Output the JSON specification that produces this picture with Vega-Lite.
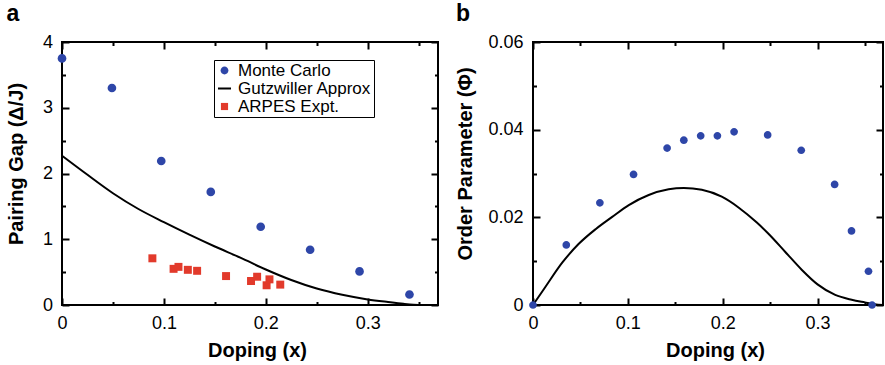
{
  "$schema": "https://vega.github.io/schema/vega-lite/v6.json",
  "padding": {"left": 5, "top": 2, "right": 0, "bottom": 0},
  "spacing": 15,
  "datasets": {
    "gutzA": [
      {"doping": 0, "gap": 2.27}, {"doping": 0.025, "gap": 1.98}, {"doping": 0.05, "gap": 1.70},
      {"doping": 0.075, "gap": 1.46}, {"doping": 0.1, "gap": 1.26}, {"doping": 0.125, "gap": 1.07},
      {"doping": 0.15, "gap": 0.89}, {"doping": 0.175, "gap": 0.72}, {"doping": 0.2, "gap": 0.54},
      {"doping": 0.225, "gap": 0.38}, {"doping": 0.25, "gap": 0.25}, {"doping": 0.275, "gap": 0.155},
      {"doping": 0.3, "gap": 0.085}, {"doping": 0.32, "gap": 0.045}, {"doping": 0.335, "gap": 0.018},
      {"doping": 0.345, "gap": 0.004}, {"doping": 0.35, "gap": 0.0}
    ],
    "pointsA": [
      {"doping": 0, "gap": 3.75, "series": "Monte Carlo"},
      {"doping": 0.049, "gap": 3.30, "series": "Monte Carlo"},
      {"doping": 0.0974, "gap": 2.19, "series": "Monte Carlo"},
      {"doping": 0.146, "gap": 1.72, "series": "Monte Carlo"},
      {"doping": 0.195, "gap": 1.19, "series": "Monte Carlo"},
      {"doping": 0.2435, "gap": 0.84, "series": "Monte Carlo"},
      {"doping": 0.292, "gap": 0.51, "series": "Monte Carlo"},
      {"doping": 0.341, "gap": 0.16, "series": "Monte Carlo"},
      {"doping": 0.0887, "gap": 0.71, "series": "ARPES Expt."},
      {"doping": 0.1095, "gap": 0.55, "series": "ARPES Expt."},
      {"doping": 0.1143, "gap": 0.58, "series": "ARPES Expt."},
      {"doping": 0.1235, "gap": 0.535, "series": "ARPES Expt."},
      {"doping": 0.1326, "gap": 0.52, "series": "ARPES Expt."},
      {"doping": 0.161, "gap": 0.44, "series": "ARPES Expt."},
      {"doping": 0.1855, "gap": 0.365, "series": "ARPES Expt."},
      {"doping": 0.1915, "gap": 0.43, "series": "ARPES Expt."},
      {"doping": 0.2008, "gap": 0.30, "series": "ARPES Expt."},
      {"doping": 0.2036, "gap": 0.39, "series": "ARPES Expt."},
      {"doping": 0.2142, "gap": 0.31, "series": "ARPES Expt."}
    ],
    "gutzB": [
      {"doping": 0, "order": 0}, {"doping": 0.013, "order": 0.0041}, {"doping": 0.031, "order": 0.0097},
      {"doping": 0.048, "order": 0.0139}, {"doping": 0.066, "order": 0.0173}, {"doping": 0.0835, "order": 0.0201},
      {"doping": 0.101, "order": 0.0228}, {"doping": 0.122, "order": 0.0251}, {"doping": 0.143, "order": 0.0264},
      {"doping": 0.159, "order": 0.0267}, {"doping": 0.178, "order": 0.0263}, {"doping": 0.199, "order": 0.0247},
      {"doping": 0.217, "order": 0.0222}, {"doping": 0.236, "order": 0.0188}, {"doping": 0.248, "order": 0.0163},
      {"doping": 0.266, "order": 0.0121}, {"doping": 0.2835, "order": 0.0080}, {"doping": 0.3, "order": 0.0047},
      {"doping": 0.3186, "order": 0.0023}, {"doping": 0.336, "order": 0.0012}, {"doping": 0.35, "order": 0.0006},
      {"doping": 0.36, "order": 0.0002}, {"doping": 0.369, "order": 0.0}
    ],
    "pointsB": [
      {"doping": 0, "order": 0, "series": "Monte Carlo"},
      {"doping": 0.0351, "order": 0.0137, "series": "Monte Carlo"},
      {"doping": 0.0705, "order": 0.0233, "series": "Monte Carlo"},
      {"doping": 0.106, "order": 0.0298, "series": "Monte Carlo"},
      {"doping": 0.1414, "order": 0.0358, "series": "Monte Carlo"},
      {"doping": 0.159, "order": 0.0376, "series": "Monte Carlo"},
      {"doping": 0.1768, "order": 0.0386, "series": "Monte Carlo"},
      {"doping": 0.1944, "order": 0.0386, "series": "Monte Carlo"},
      {"doping": 0.212, "order": 0.0395, "series": "Monte Carlo"},
      {"doping": 0.2474, "order": 0.0388, "series": "Monte Carlo"},
      {"doping": 0.2828, "order": 0.0353, "series": "Monte Carlo"},
      {"doping": 0.318, "order": 0.0275, "series": "Monte Carlo"},
      {"doping": 0.3358, "order": 0.0169, "series": "Monte Carlo"},
      {"doping": 0.3537, "order": 0.0077, "series": "Monte Carlo"},
      {"doping": 0.3575, "order": 0.0, "series": "Monte Carlo"}
    ]
  },
  "hconcat": [
    {
      "width": 376,
      "height": 263,
      "title": {"text": "a", "anchor": "start", "frame": "bounds", "fontSize": 23, "fontWeight": "bold", "offset": 7, "color": "black"},
      "layer": [
        {
          "data": {"name": "gutzA"},
          "mark": {"type": "line", "color": "black", "strokeWidth": 2, "interpolate": "monotone"},
          "encoding": {
            "x": {"field": "doping", "type": "quantitative", "scale": {"domain": [0, 0.369], "nice": false, "zero": false},
                  "axis": {"orient": "bottom", "values": [0, 0.1, 0.2, 0.3], "format": "~g", "title": "Doping (x)", "ticks": false, "grid": true, "gridColor": "#000000", "gridWidth": 2, "gridOpacity": 1, "gridDash": [7, 249], "labelPadding": 9.7, "titlePadding": 8, "titleX": 195}},
            "y": {"field": "gap", "type": "quantitative", "scale": {"domain": [0, 4], "nice": false},
                  "axis": {"orient": "left", "values": [0, 1, 2, 3, 4], "format": "~g", "title": "Pairing Gap (Δ/J)", "ticks": false, "grid": true, "gridColor": "#000000", "gridWidth": 2, "gridOpacity": 1, "gridDash": [7, 362], "labelPadding": 9.5, "titlePadding": 16, "titleY": 121.5}}
          }
        },
        {
          "data": {"name": "pointsA"},
          "mark": {"type": "point", "filled": true, "size": 210, "opacity": 1},
          "encoding": {
            "x": {"field": "doping", "type": "quantitative", "scale": {"domain": [0, 0.369], "nice": false, "zero": false},
                  "axis": {"orient": "bottom", "values": [0.05, 0.15, 0.25, 0.35], "labels": false, "title": null, "ticks": false, "grid": true, "gridColor": "#000000", "gridWidth": 2, "gridOpacity": 1, "gridDash": [3.5, 256]}},
            "y": {"field": "gap", "type": "quantitative", "scale": {"domain": [0, 4], "nice": false},
                  "axis": {"orient": "left", "values": [0.5, 1.5, 2.5, 3.5], "labels": false, "title": null, "ticks": false, "grid": true, "gridColor": "#000000", "gridWidth": 2, "gridOpacity": 1, "gridDash": [3.5, 369]}},
            "color": {"field": "series", "type": "nominal",
                      "scale": {"domain": ["Monte Carlo", "Gutzwiller Approx", "ARPES Expt."], "range": ["#2e46a8", "#000000", "#e23a2b"]},
                      "legend": {"title": null, "orient": "none", "legendX": 152, "legendY": 18, "padding": 2, "symbolOffset": 0, "labelOffset": 5, "rowPadding": 0, "symbolSize": 169, "strokeColor": "black", "fillColor": "white", "labelFontSize": 17, "labelFont": "Liberation Sans", "labelColor": "black", "encode": {"legend": {"update": {"strokeWidth": {"value": 2}}}}}},
            "shape": {"field": "series", "type": "nominal",
                      "scale": {"domain": ["Monte Carlo", "Gutzwiller Approx", "ARPES Expt."], "range": ["M0.6,0A0.6,0.6,0,1,1,-0.6,0A0.6,0.6,0,1,1,0.6,0Z", "M-1,-0.154H1V0.154H-1Z", "M-0.55,-0.55H0.55V0.55H-0.55Z"]},
                      "legend": {"title": null, "orient": "none", "legendX": 152, "legendY": 18, "padding": 2, "symbolOffset": 0, "labelOffset": 5, "rowPadding": 0, "symbolSize": 169, "strokeColor": "black", "fillColor": "white", "labelFontSize": 17, "labelFont": "Liberation Sans", "labelColor": "black", "encode": {"legend": {"update": {"strokeWidth": {"value": 2}}}}}}
          }
        }
      ],
      "resolve": {"axis": {"x": "independent", "y": "independent"}}
    },
    {
      "width": 350,
      "height": 263,
      "title": {"text": "b", "anchor": "start", "frame": "bounds", "fontSize": 23, "fontWeight": "bold", "offset": 7, "color": "black"},
      "layer": [
        {
          "data": {"name": "gutzB"},
          "mark": {"type": "line", "color": "black", "strokeWidth": 2, "interpolate": "monotone"},
          "encoding": {
            "x": {"field": "doping", "type": "quantitative", "scale": {"domain": [0, 0.369], "nice": false, "zero": false},
                  "axis": {"orient": "bottom", "values": [0, 0.1, 0.2, 0.3], "format": "~g", "title": "Doping (x)", "ticks": false, "grid": true, "gridColor": "#000000", "gridWidth": 2, "gridOpacity": 1, "gridDash": [7, 249], "labelPadding": 9.7, "titlePadding": 8, "titleX": 182}},
            "y": {"field": "order", "type": "quantitative", "scale": {"domain": [0, 0.06], "nice": false},
                  "axis": {"orient": "left", "values": [0, 0.02, 0.04, 0.06], "format": "~g", "title": "Order Parameter (Φ)", "ticks": false, "grid": true, "gridColor": "#000000", "gridWidth": 2, "gridOpacity": 1, "gridDash": [7, 336], "labelPadding": 10, "titlePadding": 12, "titleY": 121.5}}
          }
        },
        {
          "data": {"name": "pointsB"},
          "mark": {"type": "point", "filled": true, "size": 165, "opacity": 1},
          "encoding": {
            "x": {"field": "doping", "type": "quantitative", "scale": {"domain": [0, 0.369], "nice": false, "zero": false},
                  "axis": {"orient": "bottom", "values": [0.05, 0.15, 0.25, 0.35], "labels": false, "title": null, "ticks": false, "grid": true, "gridColor": "#000000", "gridWidth": 2, "gridOpacity": 1, "gridDash": [3.5, 256]}},
            "y": {"field": "order", "type": "quantitative", "scale": {"domain": [0, 0.06], "nice": false},
                  "axis": {"orient": "left", "values": [0.01, 0.03, 0.05], "labels": false, "title": null, "ticks": false, "grid": true, "gridColor": "#000000", "gridWidth": 2, "gridOpacity": 1, "gridDash": [3.5, 343]}},
            "color": {"field": "series", "type": "nominal",
                      "scale": {"domain": ["Gutzwiller Approx", "Monte Carlo"], "range": ["#000000", "#2e46a8"]},
                      "legend": {"title": null, "orient": "none", "legendX": 121, "legendY": 16.7, "padding": 2.5, "symbolOffset": 5.35, "labelOffset": 5.45, "rowPadding": 1.5, "symbolSize": 246, "strokeColor": "black", "fillColor": "white", "labelFontSize": 17, "labelFont": "Liberation Sans", "labelColor": "black", "encode": {"legend": {"update": {"strokeWidth": {"value": 2}}}}}},
            "shape": {"field": "series", "type": "nominal",
                      "scale": {"domain": ["Gutzwiller Approx", "Monte Carlo"], "range": ["M-1,-0.127H1V0.127H-1Z", "M0.38,0A0.38,0.38,0,1,1,-0.38,0A0.38,0.38,0,1,1,0.38,0Z"]},
                      "legend": {"title": null, "orient": "none", "legendX": 121, "legendY": 16.7, "padding": 2.5, "symbolOffset": 5.35, "labelOffset": 5.45, "rowPadding": 1.5, "symbolSize": 246, "strokeColor": "black", "fillColor": "white", "labelFontSize": 17, "labelFont": "Liberation Sans", "labelColor": "black", "encode": {"legend": {"update": {"strokeWidth": {"value": 2}}}}}}
          }
        }
      ],
      "resolve": {"axis": {"x": "independent", "y": "independent"}}
    }
  ],
  "config": {
    "font": "Liberation Sans",
    "view": {"stroke": "black", "strokeWidth": 2},
    "axis": {"domain": false, "labelFlush": false, "labelFont": "Liberation Sans", "labelFontSize": 18, "labelColor": "black", "titleFont": "Liberation Sans", "titleFontSize": 20, "titleFontWeight": "bold", "titleColor": "black"},
    "title": {"font": "Liberation Sans"}
  }
}
